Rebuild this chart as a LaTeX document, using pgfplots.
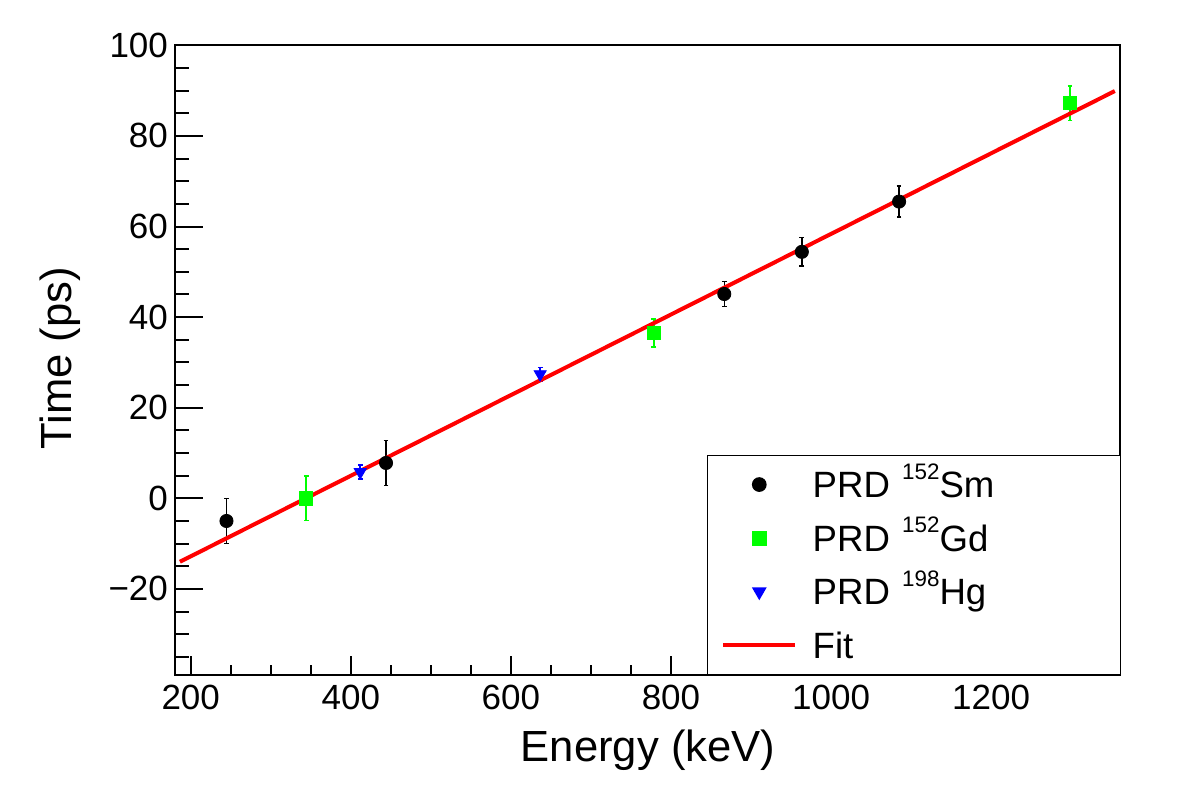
\documentclass[border=0pt]{standalone}
\usepackage{pgfplots}
\pgfplotsset{compat=1.18}
\usepackage{fontspec}
\setmainfont{Liberation Sans}

\definecolor{rootgreen}{RGB}{0,255,0}
\definecolor{rootblue}{RGB}{0,0,255}
\definecolor{rootred}{RGB}{255,0,0}

% raised mass number in front of an element symbol
\newcommand{\iso}[1]{\raisebox{9.2bp}{\fontsize{11.2bp}{13bp}\selectfont #1}}

\newcommand{\tickfont}{\fontsize{17.5bp}{21bp}\selectfont}
\newcommand{\labelfont}{\fontsize{21.8bp}{26bp}\selectfont}

% Energy (keV), time (ps), error (ps)
\pgfplotstableread{
x y ey
244.7 -5.0 5.0
444.0 7.8 5.0
866.6 45.1 2.8
963.5 54.4 3.15
1085.0 65.5 3.4
}\smdata
\pgfplotstableread{
x y ey
344.3 0.0 4.9
778.5 36.5 3.05
1298.5 87.2 3.8
}\gddata
\pgfplotstableread{
x y ey
411.8 5.8 1.5
636.6 27.4 1.5
}\hgdata

\pgfplotsset{
  common/.style={
    at={(0,0)}, anchor=south west,
    scale only axis, width=472.65bp, height=314.85bp,
    xmin=180, xmax=1361, ymin=-39, ymax=100,
  },
  markleg/.style={
    legend image code/.code={
      \path[draw=none, fill=none] (0bp,-13.4bp) rectangle (52.7bp,13.4bp);
      \draw[##1] plot coordinates {(26bp,0bp)};
    }
  },
  lineleg/.style={
    legend image code/.code={
      \path[draw=none, fill=none] (0bp,-13.4bp) rectangle (52.7bp,13.4bp);
      \draw[##1] (8bp,0bp) -- (44bp,0bp);
    }
  },
  ebars/.style={
    error bars/.cd, y dir=both, y explicit,
    error bar style={line width=0.75bp, #1},
    error mark options={rotate=90, mark size=1.2bp, line width=0.75bp, #1},
  },
}

\begin{document}
\begin{tikzpicture}
\useasboundingbox (-87.35bp,-56.5bp) rectangle (503.65bp,337.5bp);

\begin{axis}[
  common,
  axis line style={line width=1bp},
  tick pos=left,
  tick align=inside,
  xtick={200,400,600,800,1000,1200},
  xticklabels={200,400,600,800,1000,1200},
  minor xtick={200,250,...,1350},
  ytick=\empty,
  major tick length=9.5bp, minor tick length=4.75bp,
  every tick/.style={black, line width=1bp},
  xticklabel style={font=\tickfont, inner sep=0pt, anchor=north, yshift=-5bp},
  xlabel={Energy (keV)},
  ylabel={Time (ps)},
  xlabel style={at={(axis description cs:0.5007,-0.1375)}, anchor=base,
    font=\labelfont, inner sep=0pt},
  ylabel style={at={(axis description cs:-0.109,0.503)}, anchor=base,
    font=\labelfont, inner sep=0pt},
  legend cell align=left,
  legend style={
    at={(axis description cs:1.0011,0)}, anchor=south east,
    draw=black, line width=0.75bp, fill=white,
    inner xsep=0pt, inner ysep=1.05bp,
    row sep=0pt, column sep=0pt,
    font=\fontsize{18.3bp}{22bp}\selectfont,
    nodes={inner sep=0pt, text height=13.1bp, text depth=0pt,
      text width=153.8bp, align=left},
  },
]
\addplot[only marks, mark=*, mark size=3.3bp, black, markleg,
  ebars=black] table[x=x, y=y, y error=ey] {\smdata};
\addlegendentry{PRD \iso{152}Sm}

\addplot[only marks, mark=square*, mark size=3.3bp, rootgreen, markleg,
  ebars=rootgreen] table[x=x, y=y, y error=ey] {\gddata};
\addlegendentry{PRD \iso{152}Gd}

\addplot[only marks, mark=triangle*, mark size=3.5bp,
  mark options={rotate=180}, rootblue, markleg,
  ebars=rootblue] table[x=x, y=y, y error=ey] {\hgdata};
\addlegendentry{PRD \iso{198}Hg}

\addplot[rootred, line width=2bp, lineleg]
  coordinates {(186.6,-14.0) (1354.5,89.9)};
\addlegendentry{Fit}
\end{axis}

% left axis with its own (longer) tick marks
\begin{axis}[
  common,
  axis x line=none, axis y line*=left,
  axis line style={line width=1bp},
  ytick={-20,0,20,40,60,80,100},
  yticklabels={−20,0,20,40,60,80,100},
  minor ytick={-35,-30,...,95},
  major tick length=14.3bp, minor tick length=7.2bp,
  every tick/.style={black, line width=1bp},
  yticklabel style={font=\tickfont, inner sep=0pt, anchor=east, xshift=-3.2bp},
]
\end{axis}
\end{tikzpicture}
\end{document}
